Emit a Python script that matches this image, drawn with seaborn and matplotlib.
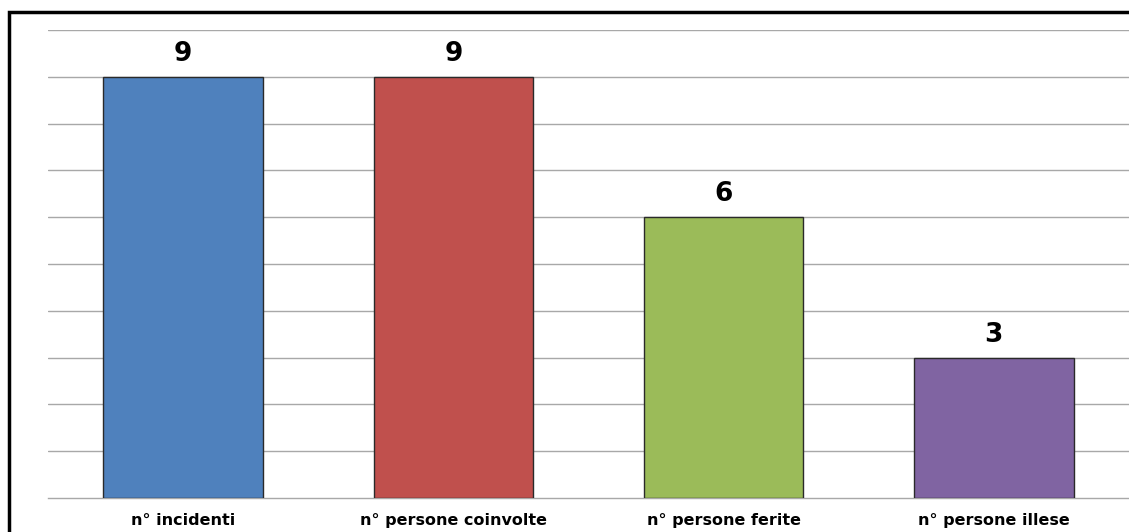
import matplotlib
matplotlib.use("Agg")
import matplotlib.pyplot as plt
import seaborn as sns
import pandas as pd
from matplotlib.patches import Rectangle

# --- Dati ---
categorie = ["n° incidenti", "n° persone coinvolte", "n° persone ferite", "n° persone illese"]
valori = [9, 9, 6, 3]
colori = ["#4F81BD", "#C0504D", "#9BBB59", "#8064A2"]

df = pd.DataFrame({"categoria": categorie, "valore": valori})

sns.set_style("white")
plt.rcParams["font.family"] = ["DejaVu Sans"]

fig = plt.figure(figsize=(11.29, 5.32), dpi=100)
ax = fig.add_axes([0.0425, 0.064, 0.9575, 0.8796])

sns.barplot(data=df, x="categoria", y="valore", hue="categoria", palette=colori,
            saturation=1, width=0.59, edgecolor="#2a2a2a", linewidth=1.0,
            legend=False, ax=ax, zorder=3)

ax.set_ylim(0, 10)
ax.set_xlim(-0.5, len(categorie) - 0.5)
ax.set_yticks(range(1, 11))
ax.yaxis.grid(True, color="#a8a8a8", linewidth=1.0, zorder=0)
ax.set_yticklabels([])
ax.tick_params(axis="y", length=0)
ax.set_xlabel("")
ax.set_ylabel("")

# tacche sull'asse x ai confini delle categorie
ax.set_xticks([i - 0.5 for i in range(len(categorie) + 1)], minor=True)
ax.tick_params(axis="x", which="minor", length=6, color="#a8a8a8", width=1.0)
ax.tick_params(axis="x", which="major", length=0, pad=11)
for lab in ax.get_xticklabels():
    lab.set_fontweight("bold")
    lab.set_fontsize(11.5)
    lab.set_color("black")

for s in ["top", "right", "left"]:
    ax.spines[s].set_visible(False)
ax.spines["bottom"].set_color("#a8a8a8")
ax.spines["bottom"].set_linewidth(1.0)

# etichette valori sopra le barre
for i, v in enumerate(valori):
    ax.annotate(str(v), (i, v), xytext=(0, 7), textcoords="offset points",
                ha="center", va="bottom", fontsize=19, fontweight="bold", color="black")

# cornice della figura (solo lati sinistro e superiore visibili)
fig.patches.append(Rectangle((8.5 / 1129, -0.5), 2.0, 1.5 - 11.5 / 532,
                             transform=fig.transFigure, fill=False,
                             edgecolor="black", linewidth=2.5))

fig.savefig("out.png", dpi=100)
